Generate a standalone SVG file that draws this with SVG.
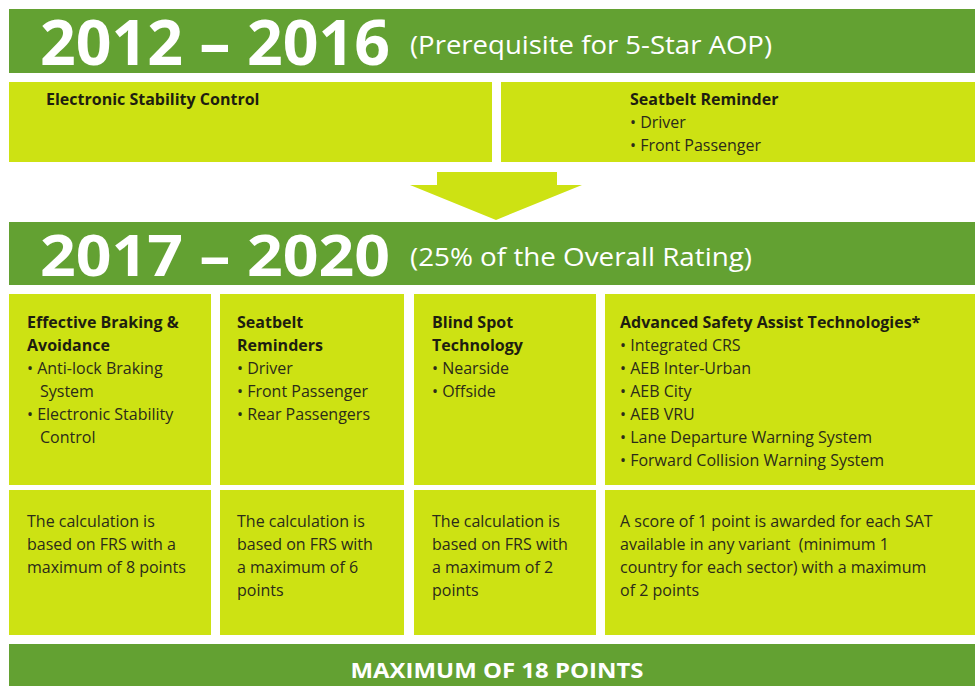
<svg xmlns="http://www.w3.org/2000/svg" width="975" height="686" viewBox="0 0 975 686">
<style>
.dg{fill:#63a132}
.lg{fill:#cde213}
.t{font-family:"Open Sans","Liberation Sans",sans-serif;font-size:16px;fill:#2b2b1a}
.b{font-weight:bold;fill:#1e1e10}
.h{font-family:"Open Sans","Liberation Sans",sans-serif;font-weight:bold;fill:#fff}
.s{font-family:"Open Sans","Liberation Sans",sans-serif;fill:#fff;font-size:26px}
</style>
<rect width="975" height="686" fill="#fff"/>
<g id="header1">
<rect class="dg" x="9" y="9" width="966" height="64"/>
<text class="h" x="40" y="65" font-size="62" textLength="350" lengthAdjust="spacingAndGlyphs">2012 – 2016</text>
<text class="s" x="410" y="54" textLength="362" lengthAdjust="spacingAndGlyphs">(Prerequisite for 5-Star AOP)</text>
</g>
<g id="esc2012">
<rect class="lg" x="9" y="82" width="483" height="80"/>
<text class="t b" x="46" y="105">Electronic Stability Control</text>
</g>
<g id="seatbelt2012">
<rect class="lg" x="501" y="82" width="474" height="80"/>
<text class="t b" x="630" y="105">Seatbelt Reminder</text>
<text class="t" x="630" y="128">• Driver</text>
<text class="t" x="630" y="151">• Front Passenger</text>
</g>
<g id="connectors">
<path class="lg" d="M437 172H557V185H582L496 220L410 185H437Z"/>
</g>
<g id="header2">
<rect class="dg" x="9" y="222" width="966" height="63"/>
<text class="h" x="40" y="276" font-size="57" textLength="350" lengthAdjust="spacingAndGlyphs">2017 – 2020</text>
<text class="s" x="410" y="266" textLength="342" lengthAdjust="spacingAndGlyphs">(25% of the Overall Rating)</text>
</g>
<g id="braking">
<rect class="lg" x="9" y="294" width="202" height="191"/>
<text class="t b" x="27" y="328">Effective Braking &amp;</text>
<text class="t b" x="27" y="351">Avoidance</text>
<text class="t" x="27" y="374">• Anti-lock Braking</text>
<text class="t" x="40" y="397">System</text>
<text class="t" x="27" y="420">• Electronic Stability</text>
<text class="t" x="40" y="443">Control</text>
</g>
<g id="seatbelts">
<rect class="lg" x="220" y="294" width="184" height="191"/>
<text class="t b" x="237" y="328">Seatbelt</text>
<text class="t b" x="237" y="351">Reminders</text>
<text class="t" x="237" y="374">• Driver</text>
<text class="t" x="237" y="397">• Front Passenger</text>
<text class="t" x="237" y="420">• Rear Passengers</text>
</g>
<g id="blindspot">
<rect class="lg" x="414" y="294" width="182" height="191"/>
<text class="t b" x="432" y="328">Blind Spot</text>
<text class="t b" x="432" y="351">Technology</text>
<text class="t" x="432" y="374">• Nearside</text>
<text class="t" x="432" y="397">• Offside</text>
</g>
<g id="sat">
<rect class="lg" x="605" y="294" width="370" height="191"/>
<text class="t b" x="620" y="328">Advanced Safety Assist Technologies*</text>
<text class="t" x="620" y="351">• Integrated CRS</text>
<text class="t" x="620" y="374">• AEB Inter-Urban</text>
<text class="t" x="620" y="397">• AEB City</text>
<text class="t" x="620" y="420">• AEB VRU</text>
<text class="t" x="620" y="443">• Lane Departure Warning System</text>
<text class="t" x="620" y="466">• Forward Collision Warning System</text>
</g>
<g id="calc1">
<rect class="lg" x="9" y="490" width="202" height="145"/>
<text class="t" x="27" y="527">The calculation is</text>
<text class="t" x="27" y="550">based on FRS with a</text>
<text class="t" x="27" y="573">maximum of 8 points</text>
</g>
<g id="calc2">
<rect class="lg" x="220" y="490" width="184" height="145"/>
<text class="t" x="237" y="527">The calculation is</text>
<text class="t" x="237" y="550">based on FRS with</text>
<text class="t" x="237" y="573">a maximum of 6</text>
<text class="t" x="237" y="596">points</text>
</g>
<g id="calc3">
<rect class="lg" x="414" y="490" width="182" height="145"/>
<text class="t" x="432" y="527">The calculation is</text>
<text class="t" x="432" y="550">based on FRS with</text>
<text class="t" x="432" y="573">a maximum of 2</text>
<text class="t" x="432" y="596">points</text>
</g>
<g id="calc4">
<rect class="lg" x="605" y="490" width="370" height="145"/>
<text class="t" x="620" y="527">A score of 1 point is awarded for each SAT</text>
<text class="t" x="620" y="550">available in any variant &#160;(minimum 1</text>
<text class="t" x="620" y="573">country for each sector) with a maximum</text>
<text class="t" x="620" y="596">of 2 points</text>
</g>
<g id="total">
<rect class="dg" x="9" y="644" width="966" height="42"/>
<text class="h" x="497" y="678" font-size="22" text-anchor="middle" textLength="293" lengthAdjust="spacingAndGlyphs">MAXIMUM OF 18 POINTS</text>
</g>
</svg>
